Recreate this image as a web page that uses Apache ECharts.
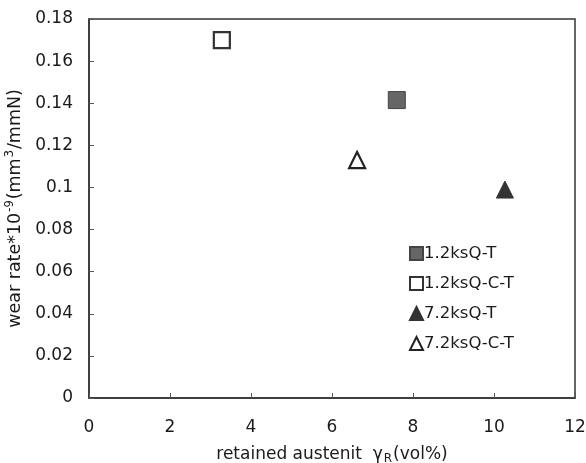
<!DOCTYPE html>
<html>
<head>
<meta charset="utf-8">
<script src="https://cdn.jsdelivr.net/npm/echarts@6/dist/echarts.min.js"></script>
<style>
  html, body { margin: 0; padding: 0; background: #fff; }
  #chart { width: 586px; height: 463px; }
</style>
</head>
<body>
<div id="chart"></div>
<script>
// series names and points [retained austenite vol%, wear rate]
const seriesNames = ['1.2ksQ-T', '1.2ksQ-C-T', '7.2ksQ-T', '7.2ksQ-C-T'];
const q12T = [[7.6, 0.1415]];
const q12CT = [[3.28, 0.170]];
const q72T = [[10.27, 0.099]];
const q72CT = [[6.62, 0.113]];

const xTicks = [0, 2, 4, 6, 8, 10, 12];
const yTicks = [0, 0.02, 0.04, 0.06, 0.08, 0.1, 0.12, 0.14, 0.16, 0.18];

const ink = '#1a1a1a';
const font = 'DejaVu Sans, sans-serif';

const chart = echarts.init(document.getElementById('chart'));
chart.setOption({
  animation: false,
  backgroundColor: '#fff',
  grid: {
    left: 89, right: 11, top: 19, bottom: 65,
    outerBoundsMode: 'none', containLabel: false,
    show: true, borderColor: '#333', borderWidth: 1.5, backgroundColor: 'transparent'
  },
  legend: {
    orient: 'vertical',
    left: 404,
    top: 240,
    itemGap: 13,
    itemWidth: 13,
    itemHeight: 13,
    textStyle: { fontFamily: font, fontSize: 16.5, color: ink, padding: [0, 0, 0, -4] },
    data: seriesNames
  },
  xAxis: {
    type: 'value',
    min: xTicks[0],
    max: xTicks[xTicks.length - 1],
    interval: 2,
    axisLine: { show: true, lineStyle: { color: '#333', width: 1.5 } },
    axisTick: { show: true, inside: true, length: 5, lineStyle: { color: '#555' } },
    splitLine: { show: false },
    axisLabel: { fontFamily: font, fontSize: 17, color: ink, margin: 21 },
    name: '{a|retained austenit  γ}{s|R}{a|(vol%)}',
    nameLocation: 'middle',
    nameGap: 47,
    nameTextStyle: {
      rich: {
        a: { fontFamily: font, fontSize: 17, color: ink },
        s: { fontFamily: font, fontSize: 12, color: ink, padding: [8, 1, 0, 1] }
      }
    }
  },
  yAxis: {
    type: 'value',
    min: yTicks[0],
    max: yTicks[yTicks.length - 1],
    interval: 0.02,
    axisLine: { show: true, lineStyle: { color: '#333', width: 1.5 } },
    axisTick: { show: true, inside: true, length: 5, lineStyle: { color: '#555' } },
    splitLine: { show: false },
    axisLabel: {
      fontFamily: font, fontSize: 17, color: ink, margin: 16,
      formatter: v => String(parseFloat(v.toFixed(2)))
    },
    name: '{a|wear rate*10}{u|-9}{a|(mm}{u|3}{a|/mmN)}',
    nameLocation: 'middle',
    nameGap: 60,
    nameRotate: 90,
    nameTextStyle: {
      rich: {
        a: { fontFamily: font, fontSize: 17.5, color: ink },
        u: { fontFamily: font, fontSize: 11.5, color: ink, padding: [0, 1, 10, 1] }
      }
    }
  },
  series: [
    {
      name: seriesNames[0], type: 'scatter', data: q12T,
      symbol: 'rect', symbolSize: 17,
      itemStyle: { color: '#666', borderColor: '#444', borderWidth: 1, opacity: 1 }
    },
    {
      name: seriesNames[1], type: 'scatter', data: q12CT,
      symbol: 'rect', symbolSize: 16,
      itemStyle: { color: '#fff', borderColor: '#333', borderWidth: 2.2, opacity: 1 }
    },
    {
      name: seriesNames[2], type: 'scatter', data: q72T,
      symbol: 'triangle', symbolSize: 17,
      itemStyle: { color: '#333', borderColor: '#333', borderWidth: 1, opacity: 1 }
    },
    {
      name: seriesNames[3], type: 'scatter', data: q72CT,
      symbol: 'triangle', symbolSize: 16,
      itemStyle: { color: '#fff', borderColor: '#222', borderWidth: 2.2, opacity: 1 }
    }
  ]
});
</script>
</body>
</html>
